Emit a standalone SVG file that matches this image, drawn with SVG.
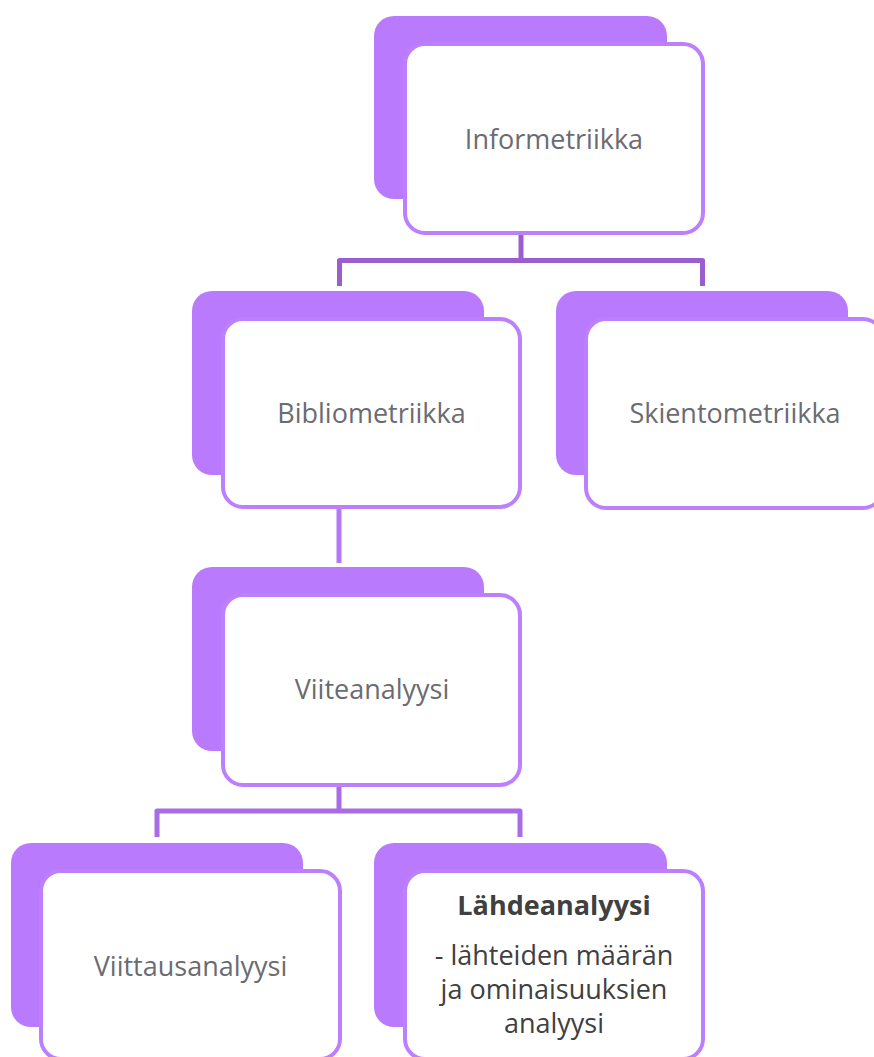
<svg xmlns="http://www.w3.org/2000/svg" width="874" height="1057" viewBox="0 0 874 1057">
  <style>
    .back { fill: #B97AFE; }
    .front { fill: #FFFFFF; stroke: #BC80FC; stroke-width: 4; }
    .link { fill: none; stroke-width: 5; stroke-linejoin: round; }
    .label { font-family: "Open Sans", "Noto Sans", "Liberation Sans", sans-serif; font-size: 27px; fill: #6B6B72; text-anchor: middle; }
    .dark { fill: #404040; }
    .bold { font-weight: bold; }
  </style>
  <rect width="874" height="1057" fill="#FFFFFF"/>

  <!-- connectors -->
  <g id="connectors">
    <path class="link" stroke="#9B5ECF" d="M521 235 V260.5 M339.5 286 V260.5 H702.5 V286"/>
    <path class="link" stroke="#B478F6" d="M339 509 V563"/>
    <path class="link" stroke="#A86CE6" d="M339 787 V811 M157 837 V811 H520 V837"/>
  </g>

  <g id="node-informetriikka">
    <rect class="back" x="374" y="16" width="293" height="183" rx="20"/>
    <rect class="front" x="405" y="44" width="298" height="189" rx="20"/>
    <text class="label" x="554" y="149">Informetriikka</text>
  </g>

  <g id="node-bibliometriikka">
    <rect class="back" x="192" y="291" width="292" height="184" rx="20"/>
    <rect class="front" x="223" y="319" width="297" height="188" rx="20"/>
    <text class="label" x="371.5" y="423">Bibliometriikka</text>
  </g>

  <g id="node-skientometriikka">
    <rect class="back" x="556" y="291" width="292" height="184" rx="20"/>
    <rect class="front" x="586" y="319" width="297" height="189" rx="20"/>
    <text class="label" x="735" y="423">Skientometriikka</text>
  </g>

  <g id="node-viiteanalyysi">
    <rect class="back" x="192" y="567" width="292" height="184" rx="20"/>
    <rect class="front" x="223" y="595" width="297" height="190" rx="20"/>
    <text class="label" x="372" y="699">Viiteanalyysi</text>
  </g>

  <g id="node-viittausanalyysi">
    <rect class="back" x="11" y="843" width="292" height="184" rx="20"/>
    <rect class="front" x="41" y="871" width="299" height="188" rx="20"/>
    <text class="label" x="190.5" y="976">Viittausanalyysi</text>
  </g>

  <g id="node-lahdeanalyysi">
    <rect class="back" x="374" y="843" width="293" height="184" rx="20"/>
    <rect class="front" x="405" y="871" width="298" height="188" rx="20"/>
    <text class="label dark bold" x="554" y="915">Lähdeanalyysi</text>
    <text class="label dark" x="554" y="965">- lähteiden määrän</text>
    <text class="label dark" x="554" y="999">ja ominaisuuksien</text>
    <text class="label dark" x="554" y="1033">analyysi</text>
  </g>
</svg>
